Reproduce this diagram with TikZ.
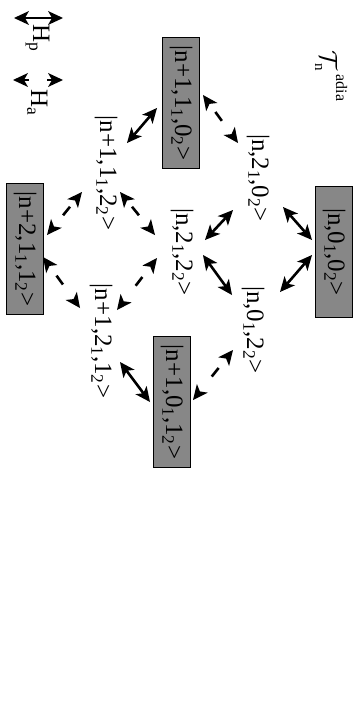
\documentclass[tikz,border=0pt]{standalone}
\usepackage{fontspec}
\setmainfont{Liberation Serif}
\usetikzlibrary{arrows.meta}
\begin{document}
\begin{tikzpicture}[x=1pt,y=1pt,
  lbl/.style={rotate=-90,anchor=base,inner sep=0pt,font=\fontsize{25}{30}\selectfont},
  ketbox/.style={rotate=-90,draw=black,line width=1pt,fill=black!47,minimum width=131pt,minimum height=37pt,inner sep=0pt,font=\fontsize{25}{30}\selectfont},
  sarr/.style={line width=2.6pt,{Stealth[length=15pt,width=14pt,inset=4pt,line width=0pt]}-{Stealth[length=15pt,width=14pt,inset=4pt,line width=0pt]}},
  darr/.style={sarr,dash pattern=on 0pt off #1 on 11pt off 300pt}]
\useasboundingbox (0,0) rectangle (360,-706);
% title
\node[rotate=-90,anchor=base west,inner sep=0pt] (title) at (320,-50)
  {{\fontsize{40}{40}\selectfont$\mathcal{T}$}\kern-7pt\raisebox{-5pt}{\fontsize{15}{15}\selectfont n}\kern4pt\raisebox{16pt}{\fontsize{16}{16}\selectfont adia}};
% boxes
\node[ketbox] (B1) at (181,-103) {|n+1,1\textsubscript{1},0\textsubscript{2}>};
\node[ketbox] (B2) at (334,-252) {|n,0\textsubscript{1},0\textsubscript{2}>};
\node[ketbox] (B3) at (25,-249) {|n+2,1\textsubscript{1},1\textsubscript{2}>};
\node[ketbox] (B4) at (172,-402) {|n+1,0\textsubscript{1},1\textsubscript{2}>};
% labels
\node[lbl] (L5) at (100,-173) {|n+1,1\textsubscript{1},2\textsubscript{2}>};
\node[lbl] (L6) at (252,-178) {|n,2\textsubscript{1},0\textsubscript{2}>};
\node[lbl] (L7) at (176,-252) {|n,2\textsubscript{1},2\textsubscript{2}>};
\node[lbl] (L8) at (247,-330) {|n,0\textsubscript{1},2\textsubscript{2}>};
\node[lbl] (L9) at (95,-341) {|n+1,2\textsubscript{1},1\textsubscript{2}>};
% connectors
\draw[sarr] ([shift={(-24,-5)}]B1.center) -- ([shift={(27,30)}]L5.base);
\draw[darr=10pt] ([shift={(22,8)}]B1.center) -- ([shift={(-14,35)}]L6.base);
\draw[sarr] ([shift={(31,-29)}]L6.base) -- ([shift={(-22,12)}]B2.center);
\draw[sarr] ([shift={(-19,-32)}]L6.base) -- ([shift={(29,12)}]L7.base);
\draw[darr=8pt] ([shift={(-18,-19)}]L5.base) -- ([shift={(22,14)}]B3.center);
\draw[darr=8pt] ([shift={(20,-19)}]L5.base) -- ([shift={(-21,17)}]L7.base);
\draw[darr=12pt] ([shift={(18,-8)}]B3.center) -- ([shift={(-15,33)}]L9.base);
\draw[darr=13pt] ([shift={(-19,-6)}]L7.base) -- ([shift={(22,31)}]L9.base);
\draw[sarr] ([shift={(27,-3)}]L7.base) -- ([shift={(-15,35)}]L8.base);
\draw[sarr] ([shift={(-22,-3)}]B2.center) -- ([shift={(33,38)}]L8.base);
\draw[sarr] ([shift={(25,-21)}]L9.base) -- ([shift={(-22,0)}]B4.center);
\draw[darr=12pt] ([shift={(-14,-20)}]L8.base) -- ([shift={(21,2)}]B4.center);
% legend
\coordinate (hpA) at (14,-18);
\coordinate (hpB) at (63,-18);
\draw[sarr] (hpA) -- (hpB);
\node[lbl] (Hp) at (33,-38) {H\textsubscript{p}};
\coordinate (haA) at (13,-80);
\coordinate (haB) at (63,-80);
\draw[sarr,dash pattern=on 5pt off 18pt] (haA) -- (haB);
\node[lbl] (Ha) at (31,-103) {H\textsubscript{a}};
\end{tikzpicture}
\end{document}
